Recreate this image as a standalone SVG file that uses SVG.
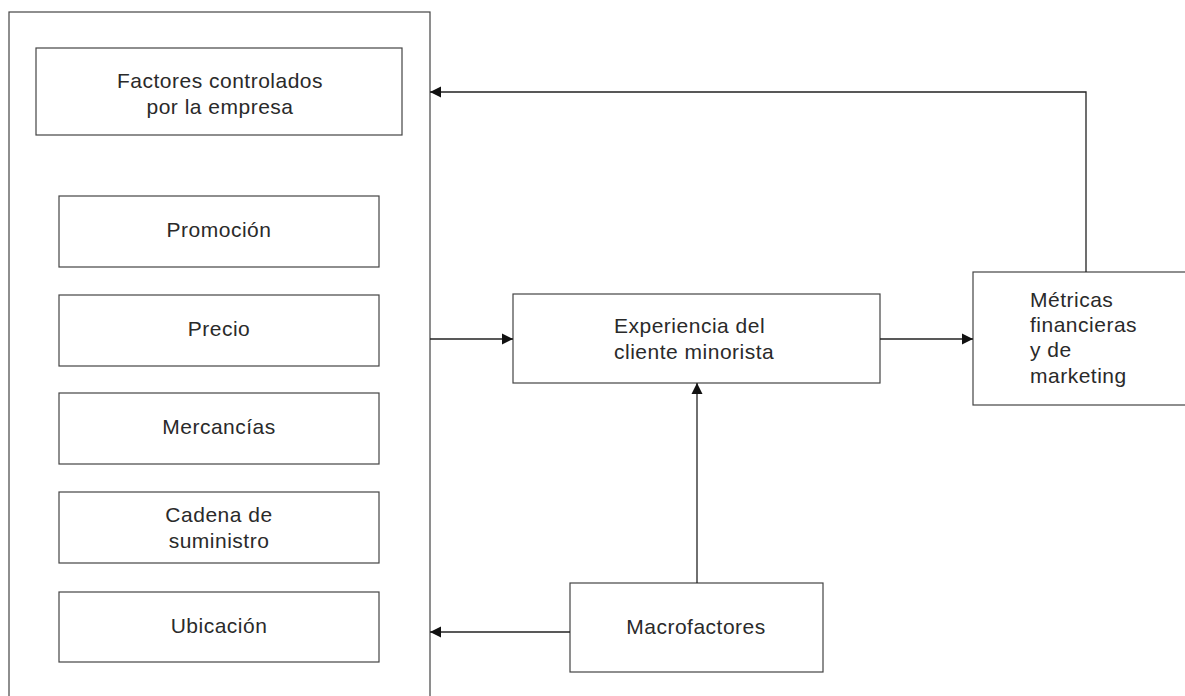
<svg xmlns="http://www.w3.org/2000/svg" width="1185" height="696" viewBox="0 0 1185 696">
<defs>
<style>
rect{fill:#fff;stroke:#444;stroke-width:1.2}
text{font-family:"Liberation Sans",Arial,sans-serif;font-size:21px;letter-spacing:0.5px;fill:#2a2a2a}
.c{text-anchor:middle}
.l{fill:none;stroke:#222;stroke-width:1.3}
</style>
<marker id="a" markerWidth="12" markerHeight="12" refX="11" refY="6" orient="auto" markerUnits="userSpaceOnUse"><path d="M0,0.5 L11,6 L0,11.5 Z" fill="#111"/></marker>
</defs>
<rect x="0" y="0" width="1185" height="696" style="fill:#fff;stroke:none"/>
<g id="outer"><rect x="9" y="12" width="421" height="700"/></g>
<g id="factores"><rect x="36" y="48" width="366" height="87"/><text class="c" x="220" y="88">Factores controlados</text><text class="c" x="220" y="114">por la empresa</text></g>
<g id="promocion"><rect x="59" y="196" width="320" height="71"/><text class="c" x="219" y="237">Promoción</text></g>
<g id="precio"><rect x="59" y="295" width="320" height="71"/><text class="c" x="219" y="336">Precio</text></g>
<g id="mercancias"><rect x="59" y="393" width="320" height="71"/><text class="c" x="219" y="434">Mercancías</text></g>
<g id="cadena"><rect x="59" y="492" width="320" height="71"/><text class="c" x="219" y="522">Cadena de</text><text class="c" x="219" y="548">suministro</text></g>
<g id="ubicacion"><rect x="59" y="592" width="320" height="70"/><text class="c" x="219" y="633">Ubicación</text></g>
<g id="experiencia"><rect x="513" y="294" width="367" height="89"/><text x="614" y="333">Experiencia del</text><text x="614" y="359">cliente minorista</text></g>
<g id="metricas"><rect x="973" y="272" width="220" height="133"/><text x="1030" y="307">Métricas</text><text x="1030" y="332">financieras</text><text x="1030" y="357">y de</text><text x="1030" y="383">marketing</text></g>
<g id="macro"><rect x="570" y="583" width="253" height="89"/><text class="c" x="696" y="634">Macrofactores</text></g>
<g id="connectors">
<path class="l" d="M430,339 H513" marker-end="url(#a)"/>
<path class="l" d="M880,339 H973" marker-end="url(#a)"/>
<path class="l" d="M697,583 V383" marker-end="url(#a)"/>
<path class="l" d="M570,632 H430" marker-end="url(#a)"/>
<path class="l" d="M1086,272 V92 H430" marker-end="url(#a)"/>
</g>
</svg>
